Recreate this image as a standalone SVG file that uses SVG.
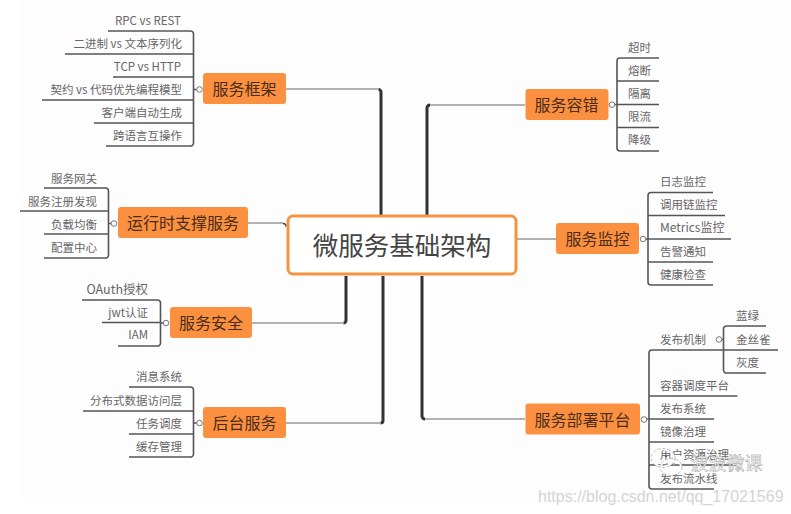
<svg xmlns="http://www.w3.org/2000/svg" width="791" height="514" viewBox="0 0 791 514">
<style>
text{font-family:"Noto Sans CJK SC","Liberation Sans",sans-serif}
.n{fill:#fb9140}
.nt{font-size:16px;fill:#4a2c1a;text-anchor:middle}
.t{font-size:11.5px;fill:#666}
.e{text-anchor:end}
.l{fill:none;stroke:#555;stroke-width:1.6}
.m{fill:none;stroke:#333;stroke-width:3}
.g{fill:none;stroke:#999;stroke-width:1.3}
.c{fill:#fff;stroke:#777;stroke-width:1}
.w{fill:none;stroke:#fff;stroke-width:2}
.wg{fill:none;stroke:#999;stroke-width:.6;stroke-dasharray:3 2}
</style>
<rect width="791" height="514" fill="#fff"/>
<rect x="22" y="0" width="769" height="498" fill="#fefdfe"/>
<g id="connectors">
<path class="g" d="M286 89H378"/><path class="m" d="M378.500 89.500a2.500 2.500 0 0 1 2.500 2.500V216"/>
<path class="g" d="M248 223H283"/><path fill="none" stroke="#444" stroke-width="1.500" d="M283 223.500a3 3 0 0 1 3 3"/>
<path class="g" d="M252 323H343"/><path class="m" d="M343.500 323a2.500 2.500 0 0 0 2.500-2.500V276"/>
<path class="g" d="M286 423H380"/><path class="m" d="M380.500 423a2.500 2.500 0 0 0 2.500-2.500V276"/>
<path class="g" d="M525 105H430"/><path class="m" d="M430 105a3 3 0 0 0-3 3V216"/>
<path class="g" d="M525 419H425"/><path class="m" d="M425 419a3 3 0 0 1-3-3V276"/>
<path class="g" d="M516 239H556"/>
<path class="l" d="M108 31H190a3 3 0 0 1 3.500 3V143a3 3 0 0 1-3.500 3H106M65 54H193M113 77H193M42 100H193M94 123H193M193 89.500h4"/>
<path class="l" d="M44 188H105a3 3 0 0 1 3.500 3V255a3 3 0 0 1-3.500 3H44M20 211H108M44 234H108M108 223.500h3"/>
<path class="l" d="M82 300H157a3 3 0 0 1 3.500 3V343a3 3 0 0 1-3.500 3H118M102 322.500H160M160 323h3"/>
<path class="l" d="M129 387H190a3 3 0 0 1 3.500 3V454a3 3 0 0 1-3.500 3H129M83 411H193M129 434H193M193 423h4"/>
<path class="l" d="M659 58H620a3 3 0 0 0-3 3V148a3 3 0 0 0 3 3H659M617 81H659M617 104.500H659M617 127.500H659M617 104.500h-2"/>
<path class="l" d="M713 192.500H651a3 3 0 0 0-3 3V282a3 3 0 0 0 3 3H713M648 215.500H725M648 239H731M648 262H713M648 239h-2"/>
<path class="l" d="M778 350H652a3 3 0 0 0-3 3V486a3 3 0 0 0 3 3H714M649 396H737.500M649 419H714M649 442H714M649 465H737M649 419h-2"/>
<path class="l" d="M766 326H727a3 3 0 0 0-3.500 3V370a3 3 0 0 0 3.500 3H766M723.500 339.500h-2"/>
</g>
<g id="center"><rect x="288" y="216" width="228" height="58" rx="5" fill="#fff" stroke="#f59342" stroke-width="3"/><text x="402" y="255" font-size="25.500" fill="#444" text-anchor="middle">微服务基础架构</text></g>
<g id="n1"><rect class="n" x="203" y="73" width="83" height="31" rx="3"/><text class="nt" x="244.500" y="95">服务框架</text><circle class="c" cx="199.500" cy="89.500" r="2.800"/>
<text class="t e" x="181" y="25">RPC vs REST</text><text class="t e" x="182" y="48">二进制 vs 文本序列化</text><text class="t e" x="181" y="71">TCP vs HTTP</text><text class="t e" x="182" y="94">契约 vs 代码优先编程模型</text><text class="t e" x="182" y="117">客户端自动生成</text><text class="t e" x="182" y="140">跨语言互操作</text></g>
<g id="n2"><rect class="n" x="118" y="207" width="130" height="31" rx="3"/><text class="nt" x="183" y="229">运行时支撑服务</text><circle class="c" cx="114" cy="223.500" r="2.800"/>
<text class="t e" x="97" y="183">服务网关</text><text class="t e" x="97" y="206">服务注册发现</text><text class="t e" x="97" y="229">负载均衡</text><text class="t e" x="97" y="252">配置中心</text></g>
<g id="n3"><rect class="n" x="170" y="307" width="82" height="31" rx="3"/><text class="nt" x="211" y="329">服务安全</text><circle class="c" cx="166" cy="323" r="2.800"/>
<text class="t e" x="148" y="294" style="font-size:12.500px">OAuth授权</text><text class="t e" x="148" y="317">jwt认证</text><text class="t e" x="148" y="339">IAM</text></g>
<g id="n4"><rect class="n" x="203" y="407" width="83" height="31" rx="3"/><text class="nt" x="244.500" y="429">后台服务</text><circle class="c" cx="199.500" cy="423" r="2.800"/>
<text class="t e" x="182" y="381">消息系统</text><text class="t e" x="182" y="405">分布式数据访问层</text><text class="t e" x="182" y="428">任务调度</text><text class="t e" x="182" y="451">缓存管理</text></g>
<g id="n5"><rect class="n" x="525.500" y="89" width="83" height="31" rx="3"/><text class="nt" x="566.500" y="111">服务容错</text><circle class="c" cx="612" cy="104.700" r="2.800"/>
<text class="t" x="628" y="52">超时</text><text class="t" x="628" y="75">熔断</text><text class="t" x="628" y="98">隔离</text><text class="t" x="628" y="121">限流</text><text class="t" x="628" y="144">降级</text></g>
<g id="n6"><rect class="n" x="556" y="223" width="83" height="31" rx="3"/><text class="nt" x="597.500" y="245">服务监控</text><circle class="c" cx="643" cy="239" r="2.800"/>
<text class="t" x="660" y="186">日志监控</text><text class="t" x="660" y="209">调用链监控</text><text class="t" x="660" y="232" style="font-size:12px">Metrics监控</text><text class="t" x="660" y="256">告警通知</text><text class="t" x="660" y="279">健康检查</text></g>
<g id="n7"><rect class="n" x="525.500" y="403.500" width="114.500" height="31" rx="3"/><text class="nt" x="582.500" y="425.500">服务部署平台</text><circle class="c" cx="644" cy="419.500" r="2.800"/>
<text class="t" x="660" y="344">发布机制</text><circle class="c" cx="719" cy="339.500" r="2.800"/><text class="t" x="736" y="320">蓝绿</text><text class="t" x="736" y="344">金丝雀</text><text class="t" x="736" y="367">灰度</text>
<text class="t" x="660" y="390">容器调度平台</text><text class="t" x="660" y="413">发布系统</text><text class="t" x="660" y="436">镜像治理</text><text class="t" x="660" y="459">用户资源治理</text><text class="t" x="660" y="483">发布流水线</text></g>
<ellipse class="w" cx="663" cy="458" rx="11" ry="8.500"/><ellipse class="w" cx="671" cy="467" rx="10" ry="7.500"/>
<ellipse class="wg" cx="663" cy="458" rx="12" ry="9.500"/><ellipse class="wg" cx="671" cy="467" rx="11" ry="8.500"/>
<circle cx="666" cy="456" r="1.300" fill="#666"/><circle cx="667" cy="464" r="1" fill="#aaa"/><circle cx="674" cy="464" r="1" fill="#aaa"/>
<text x="690.500" y="470" font-size="18" fill="#fff" stroke="#8a8a8a" stroke-width=".4">波波微课</text>
<text x="538" y="502" font-size="16" fill="#d4d4d4" style="font-family:'Liberation Sans',sans-serif">https://blog.csdn.net/qq_17021569</text>
</svg>
